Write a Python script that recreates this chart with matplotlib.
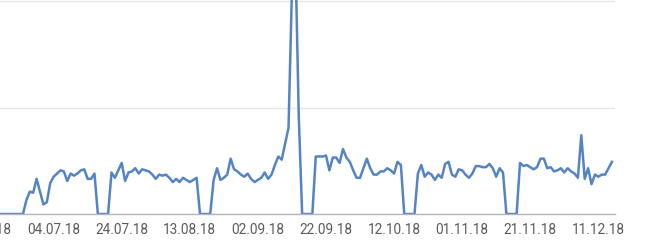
import numpy as np
import pandas as pd
import matplotlib
matplotlib.use('Agg')
import matplotlib.pyplot as plt
import matplotlib.dates as mdates

# daily values, starting 18.06.2018
start_date = '2018-06-18'
values = [
    0, 0, 0, 0, 0, 0, 0, 0,
    13, 21, 20, 33, 21, 9, 11, 29,
    35, 38, 41, 40, 31, 38, 36, 38, 41, 42, 33, 33, 38,
    0, 0, 0, 0,
    39, 34, 41, 48, 31, 39, 40, 43, 38, 42, 41, 40, 37, 33, 37, 36, 37, 34, 30, 33, 30, 34, 32, 30, 32, 34,
    0, 0, 0, 0,
    32, 43, 32, 34, 37, 52, 42, 40, 37, 35, 38, 33, 30, 32, 34, 39, 33, 37, 46, 54, 51, 66, 81, 210, 246, 93,
    0, 0, 0, 0,
    54, 54, 54, 55, 41, 53, 53, 48, 61, 53, 49, 41, 34, 34, 43, 52, 43, 37, 37, 40, 40, 43, 41, 38, 49, 46,
    0, 0, 0, 0,
    38, 46, 35, 39, 37, 32, 37, 34, 47, 49, 37, 35, 42, 41, 37, 34, 38, 45, 45, 44, 44, 47, 43, 35, 43, 39,
    0, 0, 0, 0,
    48, 45, 46, 44, 42, 44, 52, 52, 43, 44, 40, 41, 43, 39, 43, 40, 38, 34, 74, 33, 43, 28, 37, 35, 37, 37, 43, 49,
]
tick_dates = ['2018-06-14', '2018-07-04', '2018-07-24', '2018-08-13', '2018-09-02',
              '2018-09-22', '2018-10-12', '2018-11-01', '2018-11-21', '2018-12-11']

dates = pd.date_range(start_date, periods=len(values), freq='D')
ref = pd.Timestamp('2018-07-04')

fig = plt.figure(figsize=(6.47, 2.44), dpi=100)
ax = fig.add_axes([-40 / 647, 30 / 244, 655 / 647, 214 / 244])

ax.plot(dates, values, color='#5584c4', linewidth=1.8, solid_joinstyle='round')

ax.set_xlim(ref - pd.Timedelta(days=27.5), ref + pd.Timedelta(days=164.9))
ax.set_ylim(0, 201)
ax.set_yticks([0, 100, 200])
ax.yaxis.grid(True, color='#e6e6e6', linewidth=1)
ax.set_axisbelow(True)
ax.tick_params(axis='y', left=False, labelleft=False)

ax.set_xticks(pd.to_datetime(tick_dates))
ax.xaxis.set_major_formatter(mdates.DateFormatter('%d.%m.%y'))
ax.tick_params(axis='x', length=0, pad=6.5, labelsize=9.8, labelcolor='#5b5b5b')
for lab in ax.get_xticklabels():
    lab.set_family('Roboto')

for s in ['top', 'right', 'left']:
    ax.spines[s].set_visible(False)
ax.spines['bottom'].set_color('#b5b5b5')
ax.spines['bottom'].set_linewidth(1)

fig.savefig('out.png', dpi=100)
